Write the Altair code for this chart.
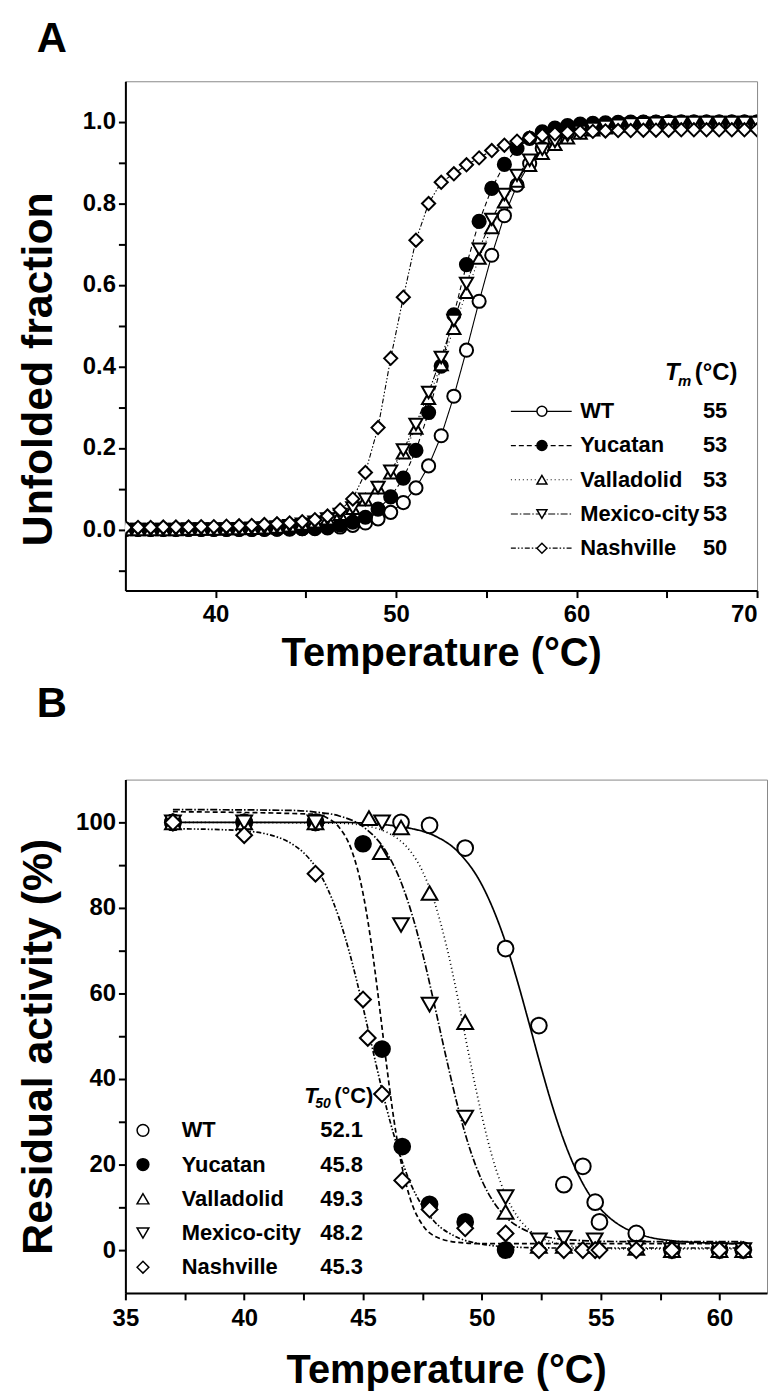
import altair as alt
import pandas as pd

FONT = "Liberation Sans"

SERIES = ["WT", "Yucatan", "Valladolid", "Mexico-city", "Nashville"]
TM_LABELS = ["55", "53", "53", "53", "50"]
T50_LABELS = ["52.1", "45.8", "49.3", "48.2", "45.3"]
SHAPES = ["circle", "circle", "triangle-up", "triangle-down", "diamond"]
FILLS = ["white", "black", "white", "white", "white"]
DASH_A = [[1, 0], [5, 3], [1, 3], [7, 2, 1.5, 2], [5, 2, 1.5, 2, 1.5, 2]]
DASH_B = [[1, 0], [9, 5], [2, 5], [10, 4, 2, 4], [6, 3, 2, 3, 2, 3]]

# ---------------- Panel A: unfolded fraction ----------------
A_TEMP = [35.0, 35.7, 36.4, 37.1, 37.8, 38.5, 39.2, 39.9, 40.6, 41.3,
          42.0, 42.7, 43.4, 44.1, 44.8, 45.5, 46.2, 46.9, 47.6, 48.3,
          49.0, 49.7, 50.4, 51.1, 51.8, 52.5, 53.2, 53.9, 54.6, 55.3,
          56.0, 56.7, 57.4, 58.1, 58.8, 59.5, 60.2, 60.9, 61.6, 62.3,
          63.0, 63.7, 64.4, 65.1, 65.8, 66.5, 67.2, 67.9, 68.6, 69.3, 70.0]
A_WT = [0, 0, 0, 0, 0, 0, 0, 0, 0, 0,
        0, 0, 0.001, 0.001, 0.002, 0.002, 0.004, 0.006, 0.010, 0.016,
        0.026, 0.042, 0.066, 0.102, 0.156, 0.230, 0.327, 0.440, 0.560, 0.673,
        0.770, 0.845, 0.898, 0.935, 0.958, 0.974, 0.984, 0.990, 0.994, 0.996,
        0.998, 0.999, 0.999, 1.0, 1.0, 1.0, 1.0, 1.0, 1.0, 1.0, 1.0]
A_YUC = [0, 0, 0, 0, 0, 0, 0, 0, 0, 0,
         0, 0.001, 0.001, 0.002, 0.002, 0.004, 0.007, 0.011, 0.018, 0.030,
         0.050, 0.080, 0.126, 0.194, 0.287, 0.401, 0.527, 0.650, 0.756, 0.837,
         0.896, 0.935, 0.960, 0.976, 0.985, 0.991, 0.995, 0.997, 0.998, 0.999,
         1.0, 1.0, 1.0, 1.0, 1.0, 1.0, 1.0, 1.0, 1.0, 1.0, 1.0]
A_VAL = [0, 0, 0, 0, 0, 0.001, 0.001, 0.001, 0.002, 0.002,
         0.003, 0.004, 0.006, 0.009, 0.013, 0.019, 0.026, 0.037, 0.052, 0.073,
         0.102, 0.139, 0.188, 0.249, 0.322, 0.405, 0.494, 0.582, 0.666, 0.741,
         0.804, 0.855, 0.894, 0.923, 0.945, 0.961, 0.973, 0.981, 0.986, 0.990,
         0.993, 0.995, 0.997, 0.998, 0.998, 0.999, 0.999, 0.999, 0.999, 0.999, 0.999]
A_MEX = [0, 0, 0, 0, 0, 0.001, 0.001, 0.001, 0.001, 0.002,
         0.003, 0.004, 0.006, 0.009, 0.013, 0.018, 0.026, 0.037, 0.053, 0.074,
         0.103, 0.143, 0.195, 0.258, 0.336, 0.422, 0.513, 0.604, 0.688, 0.761,
         0.822, 0.869, 0.906, 0.933, 0.952, 0.967, 0.977, 0.984, 0.989, 0.992,
         0.995, 0.996, 0.997, 0.998, 0.999, 0.999, 0.999, 0.999, 0.999, 0.999, 0.999]
A_NAS = [0.005, 0.005, 0.005, 0.006, 0.006, 0.006, 0.007, 0.007, 0.008, 0.009,
         0.010, 0.012, 0.014, 0.016, 0.019, 0.024, 0.033, 0.048, 0.075, 0.14,
         0.25, 0.42, 0.57, 0.71, 0.80, 0.852, 0.873, 0.895, 0.912, 0.930,
         0.943, 0.953, 0.961, 0.967, 0.971, 0.974, 0.976, 0.977, 0.978, 0.979,
         0.979, 0.980, 0.980, 0.980, 0.981, 0.981, 0.981, 0.981, 0.981, 0.981, 0.981]
A_VALUES = [A_WT, A_YUC, A_VAL, A_MEX, A_NAS]

# ---------------- Panel B: residual activity ----------------
B_T = [
    [37, 40, 43, 46.6, 47.8, 49.3, 51.0, 52.4, 53.45, 54.25, 54.77, 54.95, 56.5, 58, 60, 61],
    [37, 40, 43, 45.0, 45.8, 46.65, 47.8, 49.3, 51.0],
    [37, 40, 43, 45.25, 45.75, 46.6, 47.8, 49.3, 51.0, 52.4, 53.45, 54.75, 56.5, 58, 60, 61],
    [37, 40, 43, 45.8, 46.6, 47.8, 49.3, 51.0, 52.4, 53.45, 54.75, 56.5, 58, 60, 61],
    [37, 40, 43, 45.0, 45.2, 45.8, 46.65, 47.8, 49.3, 51.0, 52.4, 53.45, 54.25, 54.77, 54.95, 56.5, 58, 60, 61],
]
B_V = [
    [100, 100, 100, 100, 99.3, 94, 70.5, 52.5, 15.3, 19.6, 11.2, 6.6, 3.9, 0, 0, 0],
    [100, 100, 100, 95, 47, 24.2, 10.7, 6.6, 0],
    [100, 100, 100, 101, 93, 98.8, 83.5, 53.3, 8.9, 1.0, 1.0, 1.0, 0.5, 0, 0, 0],
    [100, 100, 100, 100, 76, 57.4, 31, 12.4, 2.3, 2.8, 2.3, 0.5, 0, 0, 0],
    [100, 97, 88, 58.6, 49.6, 36.5, 16.3, 9.5, 5.1, 3.9, 0, 0, 0, 0, 0, 0, 0, 0, 0],
]
FIT_T = [
    [37, 44, 46, 47, 48, 49, 50, 50.5, 51, 51.5, 52, 52.5, 53, 53.5, 54, 54.5, 55, 55.5, 56, 57, 58, 59, 61],
    [37, 43, 43.5, 44, 44.5, 45, 45.3, 45.6, 45.8, 46.0, 46.3, 46.6, 47, 47.5, 48, 49, 50, 61],
    [37, 44, 45, 46, 46.5, 47, 47.5, 48, 48.5, 49, 49.3, 49.6, 50, 50.5, 51, 51.5, 52, 53, 54, 56, 61],
    [37, 42, 43, 44, 45, 46, 46.5, 47, 47.5, 48, 48.5, 49, 49.5, 50, 50.5, 51, 52, 53, 54, 56, 61],
    [37, 39, 40, 41, 42, 42.5, 43, 43.5, 44, 44.5, 45, 45.3, 45.5, 46, 46.5, 47, 47.5, 48, 49, 50, 51, 53, 61],
]
FIT_V = [
    [100, 100, 99.4, 98.6, 96.9, 93.1, 85.4, 79.4, 71.9, 62.8, 52.8, 42.6, 33.1, 24.9, 18.3, 13.2, 9.6, 7.0, 5.2, 3.1, 2.2, 1.8, 1.5],
    [102.5, 101.9, 101, 98.8, 93.8, 83.4, 73.5, 61.1, 52, 42.9, 30.5, 20.6, 11.8, 5.9, 3.3, 1.8, 1.5, 1.5],
    [100, 99.8, 99.3, 97.7, 96.0, 93.2, 88.6, 81.5, 71.4, 58.6, 50, 41.7, 31.4, 20.6, 12.9, 7.8, 4.7, 1.8, 0.8, 0.3, 0.3],
    [103, 102.8, 102.4, 101.5, 99, 92.9, 87.4, 79.6, 69.5, 57.5, 45, 33.3, 23.6, 16.3, 11.2, 7.8, 4.2, 2.8, 2.3, 2.0, 2.0],
    [98.5, 98.3, 98.0, 97.2, 95, 92.9, 89.6, 84.6, 77.5, 68.1, 56.8, 49.5, 44.6, 33, 23.2, 15.6, 10.3, 6.7, 2.9, 1.4, 0.8, 0.5, 0.5],
]

# ---------------- helpers ----------------
AX = dict(labelFont=FONT, labelFontSize=24, labelFontWeight="bold", labelColor="black",
          titleFont=FONT, titleFontWeight="bold", titleColor="black",
          domainColor="black", domainWidth=2, tickColor="black", tickWidth=2, tickSize=7,
          grid=False)

shape_enc = alt.Shape("series:N", scale=alt.Scale(domain=SERIES, range=SHAPES), legend=None)
fill_enc = alt.Fill("series:N", scale=alt.Scale(domain=SERIES, range=FILLS), legend=None)


def dash_enc(rng):
    return alt.StrokeDash("series:N", scale=alt.Scale(domain=SERIES, range=rng), legend=None)


TXT = dict(font=FONT, fontSize=22, fontWeight="bold", align="left", baseline="middle", color="black")

# ---- Panel A ----
rowsA = []
for s, vals in zip(SERIES, A_VALUES):
    for t, v in zip(A_TEMP, vals):
        rowsA.append({"series": s, "T": t, "frac": v})
dfA = pd.DataFrame(rowsA)

xA_scale = alt.Scale(domain=[35, 70], nice=False, zero=False)
yA_scale = alt.Scale(domain=[-0.15, 1.1], nice=False, zero=False)
xA_axis = alt.Axis(title="Temperature (°C)", values=[40, 45, 50, 55, 60, 65, 70],
                   labelExpr="datum.value % 10 === 0 ? datum.label : ''",
                   labelFlush=True, labelPadding=5, titlePadding=7, titleFontSize=40,
                   minExtent=36, maxExtent=36, **AX)
yA_axis = alt.Axis(title="Unfolded fraction",
                   values=[-0.1, 0, 0.1, 0.2, 0.3, 0.4, 0.5, 0.6, 0.7, 0.8, 0.9, 1.0],
                   format=".1f",
                   labelExpr="(round(datum.value*10) % 2 === 0 && datum.value > -0.05) ? datum.label : ''",
                   labelFlush=False, labelPadding=3, titlePadding=15, titleFontSize=43, titleY=289,
                   minExtent=50, maxExtent=50, **AX)


def XA(f="T"):
    return alt.X(f"{f}:Q", scale=xA_scale, axis=xA_axis)


def YA(f="frac"):
    return alt.Y(f"{f}:Q", scale=yA_scale, axis=yA_axis)


linesA = alt.Chart(dfA).mark_line(color="black", strokeWidth=1.1, clip=True).encode(
    x=XA(), y=YA(), detail="series:N", strokeDash=dash_enc(DASH_A))
ptsA = alt.Chart(dfA).mark_point(filled=True, stroke="black", strokeWidth=2, size=175,
                                 opacity=1, fillOpacity=1, clip=True).encode(
    x=XA(), y=YA(), shape=shape_enc, fill=fill_enc)

legA_y = [0.29, 0.206, 0.122, 0.038, -0.046]
legA = pd.DataFrame({"series": SERIES, "frac": legA_y, "label": SERIES, "tm": TM_LABELS})
legA_rule = alt.Chart(legA).mark_rule(color="black", strokeWidth=1.2).encode(
    x=alt.datum(56.36), x2=alt.datum(59.73), y=YA(), strokeDash=dash_enc(DASH_A))
legA_pts = alt.Chart(legA).mark_point(filled=True, stroke="black", strokeWidth=1.5, size=100,
                                      opacity=1, fillOpacity=1).encode(
    x=alt.datum(58.08), y=YA(), shape=shape_enc, fill=fill_enc)
legA_names = alt.Chart(legA).mark_text(**TXT).encode(
    x=alt.datum(60.2), y=YA(), text="label:N")
legA_vals = alt.Chart(legA).mark_text(**TXT).encode(
    x=alt.datum(67.0), y=YA(), text="tm:N")
hdrA = pd.DataFrame({"frac": [0.385]})
hdrA_T = alt.Chart(hdrA).mark_text(text="T", font=FONT, fontSize=24, fontWeight="bold", fontStyle="italic",
                                   align="left", baseline="middle", color="black").encode(
    x=alt.datum(64.9), y=YA())
hdrA_m = alt.Chart(hdrA).mark_text(text="m", font=FONT, fontSize=15, fontWeight="bold", fontStyle="italic",
                                   align="left", baseline="middle", color="black", dx=13, dy=8).encode(
    x=alt.datum(64.9), y=YA())
hdrA_c = alt.Chart(hdrA).mark_text(text="(°C)", font=FONT, fontSize=24, fontWeight="bold",
                                   align="left", baseline="middle", color="black", dx=30).encode(
    x=alt.datum(64.9), y=YA())
labA = alt.Chart(pd.DataFrame({"label": ["A"]})).mark_text(
    font=FONT, fontSize=42, fontWeight="bold", align="left", baseline="top", color="black").encode(
    x=alt.value(-89), y=alt.value(-62), text="label:N")

panelA = alt.layer(linesA, ptsA, legA_rule, legA_pts, legA_names, legA_vals,
                   hdrA_T, hdrA_m, hdrA_c, labA).properties(width=635, height=512)

# ---- Panel B ----
rowsB, rowsF = [], []
for s, ts, vs in zip(SERIES, B_T, B_V):
    for t, v in zip(ts, vs):
        rowsB.append({"series": s, "T": t, "act": v})
for s, ts, vs in zip(SERIES, FIT_T, FIT_V):
    for t, v in zip(ts, vs):
        rowsF.append({"series": s, "T": t, "act": v})
dfB = pd.DataFrame(rowsB)
dfF = pd.DataFrame(rowsF)

xB_scale = alt.Scale(domain=[35, 62], nice=False, zero=False)
yB_scale = alt.Scale(domain=[-10, 110], nice=False, zero=False)
xB_axis = alt.Axis(title="Temperature (°C)",
                   values=[35, 37.5, 40, 42.5, 45, 47.5, 50, 52.5, 55, 57.5, 60],
                   labelExpr="datum.value % 5 === 0 ? datum.label : ''",
                   labelFlush=False, labelPadding=7, titlePadding=22, titleFontSize=40,
                   minExtent=36, maxExtent=36, **AX)
yB_axis = alt.Axis(title="Residual activity (%)",
                   values=[0, 10, 20, 30, 40, 50, 60, 70, 80, 90, 100],
                   labelExpr="datum.value % 20 === 0 ? datum.label : ''",
                   labelFlush=False, labelPadding=3, titlePadding=15, titleFontSize=43, titleY=268,
                   minExtent=50, maxExtent=50, **AX)


def XB(f="T"):
    return alt.X(f"{f}:Q", scale=xB_scale, axis=xB_axis)


def YB(f="act"):
    return alt.Y(f"{f}:Q", scale=yB_scale, axis=yB_axis)


linesB = alt.Chart(dfF).mark_line(color="black", strokeWidth=1.7, interpolate="monotone").encode(
    x=XB(), y=YB(), detail="series:N", strokeDash=dash_enc(DASH_B))
ptsB = alt.Chart(dfB).mark_point(filled=True, stroke="black", strokeWidth=2, size=250,
                                 opacity=1, fillOpacity=1).encode(
    x=XB(), y=YB(), shape=shape_enc, fill=fill_enc)

legB_y = [28, 20, 12, 4, -4]
legB = pd.DataFrame({"series": SERIES, "act": legB_y, "label": SERIES, "t50": T50_LABELS})
legB_pts = alt.Chart(legB).mark_point(filled=True, stroke="black", strokeWidth=1.5, size=140,
                                      opacity=1, fillOpacity=1).encode(
    x=alt.datum(35.74), y=YB(), shape=shape_enc, fill=fill_enc)
legB_names = alt.Chart(legB).mark_text(**TXT).encode(
    x=alt.datum(37.37), y=YB(), text="label:N")
legB_vals = alt.Chart(legB).mark_text(**TXT).encode(
    x=alt.datum(43.2), y=YB(), text="t50:N")
hdrB = pd.DataFrame({"act": [36]})
hdrB_T = alt.Chart(hdrB).mark_text(text="T", font=FONT, fontSize=22, fontWeight="bold", fontStyle="italic",
                                   align="left", baseline="middle", color="black").encode(
    x=alt.datum(42.53), y=YB())
hdrB_s = alt.Chart(hdrB).mark_text(text="50", font=FONT, fontSize=14, fontWeight="bold", fontStyle="italic",
                                   align="left", baseline="middle", color="black", dx=11, dy=8).encode(
    x=alt.datum(42.53), y=YB())
hdrB_c = alt.Chart(hdrB).mark_text(text="(°C)", font=FONT, fontSize=22, fontWeight="bold",
                                   align="left", baseline="middle", color="black", dx=30).encode(
    x=alt.datum(42.53), y=YB())
labB = alt.Chart(pd.DataFrame({"label": ["B"]})).mark_text(
    font=FONT, fontSize=42, fontWeight="bold", align="left", baseline="top", color="black").encode(
    x=alt.value(-89), y=alt.value(-96), text="label:N")

panelB = alt.layer(linesB, ptsB, legB_pts, legB_names, legB_vals,
                   hdrB_T, hdrB_s, hdrB_c, labB).properties(width=645, height=516)

chart = alt.vconcat(panelA, panelB, spacing=8).properties(
    padding={"left": 9, "top": 6, "right": 0, "bottom": 0}
).configure_view(stroke="#888888", strokeWidth=1)

chart.save("out.html", embed_options={"renderer": "svg", "actions": False})
